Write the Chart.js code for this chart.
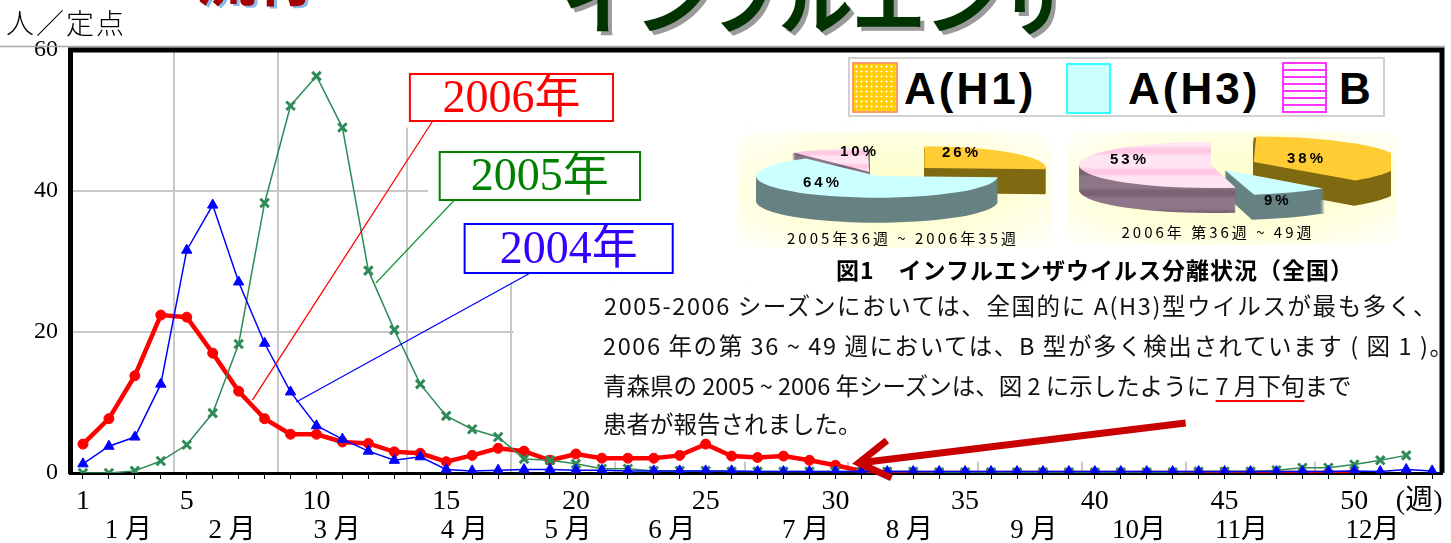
<!DOCTYPE html>
<html lang="ja">
<head>
<meta charset="utf-8">
<script src="https://cdn.jsdelivr.net/npm/chart.js@4.4.1/dist/chart.umd.min.js"></script>
<style>
  body { margin: 0; background: #fff; }
  #wrap { position: relative; width: 1451px; height: 543px; overflow: hidden; }
  .abs { position: absolute; white-space: nowrap; }
  .jp { font-family: "Noto Sans CJK JP", sans-serif; }
  .ctr { text-align: center; }
  .pct { font: bold 15px "Liberation Sans", sans-serif; letter-spacing: 3px; line-height: 15px; color: #000; }
  .lg { font: bold 44px "Liberation Sans", sans-serif; line-height: 44px; letter-spacing: 3px; color: #000; }
  .para { font-size: 23.5px; line-height: 24px; color: #111; }
  canvas { position: absolute; }
</style>
</head>
<body>
<div id="wrap">
  <canvas id="main" width="1451" height="543" style="left:0;top:0"></canvas>

  <div class="abs jp" style="left:562px;top:-41px;font-size:74px;line-height:74px;font-weight:700;color:#003300;text-shadow:4px 4px 0 #9a9a9a;letter-spacing:-1px">インフルエンザ</div>
  <div class="abs jp" style="left:196px;top:-55px;font-size:60px;line-height:60px;font-weight:700;color:#a00000;text-shadow:3px 2px 0 #88bbee">流行</div>
  <div class="abs jp" style="left:6px;top:8px;font-size:28px;line-height:28px;font-weight:300;color:#000;letter-spacing:2px">人／定点</div>

  <!-- legend of the virus types -->
  <div class="abs" style="left:848px;top:57px;width:533px;height:56px;border:2px solid #d0d0d0;background:#fff"></div>
  <div class="abs" style="left:852px;top:62px;width:42px;height:47px;border:2px solid #ff9966;background-color:#ffcc00;background-image:radial-gradient(#fff 0.8px, transparent 1.3px);background-size:5px 5px"></div>
  <div class="abs lg" style="left:904px;top:67px">A(H1)</div>
  <div class="abs" style="left:1066px;top:63px;width:41px;height:47px;border:2px solid #33ffff;background:#ccffff"></div>
  <div class="abs lg" style="left:1128px;top:67px">A(H3)</div>
  <div class="abs" style="left:1282px;top:62px;width:41px;height:47px;border:2px solid #ff33ff;background:repeating-linear-gradient(to bottom,#fff 0 5px,#ff33ff 5px 7px)"></div>
  <div class="abs lg" style="left:1339px;top:67px">B</div>

  <!-- pie panels -->
  <div class="abs" style="left:738px;top:132px;width:313px;height:116px;background:radial-gradient(ellipse at 50% 50%,#ffffcc 0%,#ffffd8 50%,#fffff0 85%,#fff 100%)"></div>
  <div class="abs" style="left:1067px;top:132px;width:330px;height:113px;background:radial-gradient(ellipse at 50% 50%,#ffffcc 0%,#ffffd8 50%,#fffff0 85%,#fff 100%)"></div>
  <canvas id="pie1" width="360" height="360" style="left:697px;top:-4px"></canvas>
  <canvas id="pie2" width="360" height="360" style="left:1031px;top:-15px"></canvas>

  <div class="abs pct" style="left:840px;top:143px">10%</div>
  <div class="abs pct" style="left:942px;top:144px">26%</div>
  <div class="abs pct" style="left:803px;top:174px">64%</div>
  <div class="abs pct" style="left:1110px;top:151px">53%</div>
  <div class="abs pct" style="left:1287px;top:150px">38%</div>
  <div class="abs pct" style="left:1264px;top:192px">9%</div>

  <div class="abs jp ctr" style="left:603px;width:600px;top:230px;font-size:15px;line-height:15px;letter-spacing:3px">2005年36週 ~ 2006年35週</div>
  <div class="abs jp ctr" style="left:918px;width:600px;top:224px;font-size:15px;line-height:15px;letter-spacing:3px">2006年 第36週 ~ 49週</div>

  <div class="abs jp ctr" style="left:795px;width:600px;top:258px;font-size:23px;line-height:23px;font-weight:700;letter-spacing:1px">図1　インフルエンザウイルス分離状況（全国）</div>

  <div class="abs jp para" style="left:604px;top:293px;letter-spacing:1.6px"> 2005-2006 シーズンにおいては、全国的に A(H3)型ウイルスが最も多く、</div>
  <div class="abs jp para" style="left:603px;top:333px;letter-spacing:1.6px">2006 年の第 36 ~ 49 週においては、B 型が多く検出されています ( 図 1 )。</div>
  <div class="abs jp para" style="left:603px;top:373px">青森県の 2005 ~ 2006 年シーズンは、図 2 に示したように <span style="text-decoration:underline;text-decoration-color:#ff0000;text-decoration-thickness:2px;text-underline-offset:5px">7 月下旬</span>まで</div>
  <div class="abs jp para" style="left:603px;top:411px">患者が報告されました。</div>
</div>

<script>
// weekly reports per sentinel site (人／定点), Aomori
const weeks = [1,2,3,4,5,6,7,8,9,10,11,12,13,14,15,16,17,18,19,20,21,22,23,24,25,26,
  27,28,29,30,31,32,33,34,35,36,37,38,39,40,41,42,43,44,45,46,47,48,49,50,51,52,53];
const y2006 = [4.1, 7.7, 13.8, 22.4, 22.1, 17.0, 11.6, 7.7, 5.5, 5.5, 4.4, 4.2, 3.0, 2.8, 1.6, 2.5, 3.5,
  3.1, 1.8, 2.7, 2.1, 2.1, 2.1, 2.5, 4.1, 2.4, 2.2, 2.4, 1.8, 1.1, 0.3,
  0, 0, 0, 0, 0, 0, 0, 0, 0, 0, 0, 0, 0, 0, 0, 0, 0, 0, 0];
const y2005 = [0, 0, 0.3, 1.7, 4.0, 8.5, 18.3, 38.3, 52.1, 56.3, 49.0, 28.7, 20.3, 12.6, 8.1, 6.2, 5.1,
  2.0, 1.8, 1.3, 0.6, 0.6, 0.3, 0.3, 0.3, 0.2, 0.2, 0.2, 0.2, 0.2, 0.2, 0.2, 0.2, 0.1, 0.1,
  0.1, 0.1, 0.1, 0.1, 0.1, 0.1, 0.1, 0.1, 0.2, 0.2, 0.2, 0.4, 0.75, 0.75, 1.2, 1.8, 2.5];
const y2004 = [1.3, 3.8, 5.1, 12.6, 31.6, 38.0, 27.1, 18.4, 11.5, 6.7, 4.8, 3.1, 1.8, 2.3, 0.5, 0.3, 0.4,
  0.5, 0.5, 0.4, 0.4, 0.3, 0.3, 0.3, 0.3, 0.3, 0.2, 0.2, 0.2, 0.2, 0.2, 0.2, 0.2, 0.2, 0.2,
  0.2, 0.2, 0.2, 0.2, 0.2, 0.2, 0.2, 0.2, 0.2, 0.2, 0.2, 0.2, 0.2, 0.2, 0.3, 0.2, 0.5, 0.3];

const yTicks = [0, 20, 40, 60];
const labelWeeks = [1, 5, 10, 15, 20, 25, 30, 35, 40, 45, 50];
const unitPos = 52.5;
const monthNames = ['1 月', '2 月', '3 月', '4 月', '5 月', '6 月', '7 月', '8 月', '9 月', '10月', '11月', '12月'];
const monthPos = [2.75, 6.75, 10.8, 15.7, 19.7, 23.7, 28.85, 32.85, 37.65, 41.7, 45.65, 50.7];
const monthEdges = [4.5, 8.5, 13.5, 17.5, 21.5, 26.5, 30.5, 35.5, 39.5, 43.5, 48.5];
const weekMin = 0.5, weekMax = 53.38;

// pie data: share of isolated virus types
const virusTypes = ['A(H1)', 'A(H3)', 'B'];
const season0506 = [26, 64, 10];
const season06 = [38, 9, 53];

// white areas behind the overlaid pictures/text (week, value)
const masks = [[13, 49, 53.5, 60], [14.3, 27, 53.5, 49], [17.6, 1.6, 53.5, 27]];
// year call-outs: box corners and leader line ends (week, value)
const notes = [
  { text: '2006年', color: '#ff0000', line: '#ff0000', box: [13.6, 56.6, 21.43, 49.93], from: [7.53, 10.35], to: [14.48, 49.93] },
  { text: '2005年', color: '#008000', line: '#1a9a3a', box: [14.75, 45.53, 22.47, 38.72], from: [12.29, 26.95], to: [15.32, 38.72] },
  { text: '2004年', color: '#3300ff', line: '#0000ff', box: [15.71, 35.32, 23.73, 28.37], from: [9.22, 10.07], to: [18.24, 28.37] }
];
const arrow = { from: [43.5, 7.1], to: [30.9, 1.42] };

const pts = arr => arr.map((v, i) => ({ x: weeks[i], y: v }));

const decor = {
  id: 'decor',
  beforeDatasetsDraw(chart) {
    const { ctx, chartArea: a, scales: { x, y } } = chart;
    ctx.save();
    ctx.fillStyle = '#fff';
    masks.forEach(([x0, y0, x1, y1]) => {
      const l = x.getPixelForValue(x0), r = x.getPixelForValue(x1);
      const t = y.getPixelForValue(y1), b = y.getPixelForValue(y0);
      ctx.fillRect(l, t, r - l, b - t);
    });
    // frame on top and right
    ctx.strokeStyle = '#a8a8a8';
    ctx.lineWidth = 1.5;
    ctx.beginPath(); ctx.moveTo(0, a.top - 3.5); ctx.lineTo(a.right + 3, a.top - 3.5); ctx.stroke();
    ctx.strokeStyle = '#000';
    ctx.lineWidth = 5;
    ctx.beginPath();
    ctx.moveTo(a.left - 2, a.top); ctx.lineTo(a.right, a.top); ctx.lineTo(a.right, a.bottom);
    ctx.stroke();
    ctx.restore();
  },
  afterDatasetsDraw(chart) {
    const { ctx, scales: { x, y } } = chart;
    const P = ([wx, wy]) => [x.getPixelForValue(wx), y.getPixelForValue(wy)];
    ctx.save();
    notes.forEach(n => {
      const [fx, fy] = P(n.from), [tx, ty] = P(n.to);
      ctx.strokeStyle = n.line;
      ctx.lineWidth = 1.3;
      ctx.beginPath(); ctx.moveTo(fx, fy); ctx.lineTo(tx, ty); ctx.stroke();
      const [l, t] = P([n.box[0], n.box[1]]), [r, b] = P([n.box[2], n.box[3]]);
      ctx.fillStyle = '#fff';
      ctx.fillRect(l, t, r - l, b - t);
      ctx.strokeStyle = n.color === '#3300ff' ? '#0000ff' : n.color;
      ctx.lineWidth = 2;
      ctx.strokeRect(l, t, r - l, b - t);
      ctx.fillStyle = n.color;
      ctx.font = '46px "Liberation Serif", "Noto Sans CJK JP", serif';
      ctx.textAlign = 'center';
      ctx.textBaseline = 'middle';
      ctx.fillText(n.text, (l + r) / 2, (t + b) / 2 + 2);
    });
    // arrow pointing to the end of the 2006 season
    const [ax, ay] = P(arrow.from), [bx, by] = P(arrow.to);
    const ang = Math.atan2(ay - by, ax - bx);
    ctx.strokeStyle = '#c80000';
    ctx.lineWidth = 7;
    ctx.beginPath(); ctx.moveTo(ax, ay); ctx.lineTo(bx + Math.cos(ang) * 4, by + Math.sin(ang) * 4); ctx.stroke();
    ctx.lineJoin = 'miter';
    ctx.beginPath();
    ctx.moveTo(bx + Math.cos(ang - 0.55) * 36, by + Math.sin(ang - 0.55) * 36);
    ctx.lineTo(bx, by);
    ctx.lineTo(bx + Math.cos(ang + 0.55) * 36, by + Math.sin(ang + 0.55) * 36);
    ctx.stroke();
    ctx.restore();
  }
};

const serif = { family: '"Liberation Serif", "Noto Sans CJK JP", serif' };
const noPad = s => { s.paddingRight = 0; s.paddingLeft = 0; };

new Chart(document.getElementById('main'), {
  type: 'line',
  data: {
    datasets: [
      { label: '2004年', data: pts(y2004), borderColor: '#0000ff', backgroundColor: '#0000ff', borderWidth: 1.5,
        pointStyle: 'triangle', pointRadius: 6, pointBorderWidth: 1, order: 0 },
      { label: '2005年', data: pts(y2005), borderColor: '#2e8b57', backgroundColor: '#2e8b57', borderWidth: 1.5,
        pointStyle: 'crossRot', pointRadius: 6, pointBorderWidth: 3, order: 1 },
      { label: '2006年', data: pts(y2006), borderColor: '#ff0000', backgroundColor: '#ff0000', borderWidth: 4.5,
        pointStyle: 'circle', pointRadius: 5, pointBorderWidth: 1, order: 2 }
    ]
  },
  options: {
    responsive: false,
    animation: false,
    events: [],
    layout: { padding: { top: 50, right: -3, left: 0, bottom: 0 } },
    plugins: { legend: { display: false }, tooltip: { enabled: false } },
    scales: {
      x: {
        type: 'linear', min: weekMin, max: weekMax, position: 'bottom', weight: 0,
        afterBuildTicks: s => { s.ticks = weeks.map(v => ({ value: v })).concat([{ value: unitPos }]); },
        afterFit: s => { s.height = 42; noPad(s); },
        grid: { drawOnChartArea: false, tickLength: 6, lineWidth: 1,
          color: c => (c.tick && c.tick.value === unitPos) ? 'rgba(0,0,0,0)' : '#000' },
        border: { color: '#000', width: 3 },
        ticks: { autoSkip: false, maxRotation: 0, padding: 6, color: '#000', font: { ...serif, size: 28 },
          callback: v => labelWeeks.includes(v) ? String(v) : (v === unitPos ? '(週)' : '') }
      },
      xMonth: {
        type: 'linear', min: weekMin, max: weekMax, position: 'bottom', weight: 1,
        afterBuildTicks: s => { s.ticks = monthPos.map(v => ({ value: v })); },
        afterFit: s => { s.height = 28; noPad(s); },
        grid: { display: false, drawTicks: false }, border: { display: false },
        ticks: { autoSkip: false, maxRotation: 0, padding: 0, color: '#000', font: { ...serif, size: 27 },
          callback: (v, i) => monthNames[i] }
      },
      xGrid: {
        type: 'linear', min: weekMin, max: weekMax, position: 'bottom', weight: 2,
        afterBuildTicks: s => { s.ticks = monthEdges.map(v => ({ value: v })); },
        afterFit: s => { s.height = 0; noPad(s); },
        grid: { color: '#c8c8c8', lineWidth: 2, drawTicks: false }, border: { display: false },
        ticks: { display: false }
      },
      y: {
        min: 0, max: 60,
        afterBuildTicks: s => { s.ticks = yTicks.map(v => ({ value: v })); },
        afterFit: s => { s.width = 70; },
        grid: { drawTicks: false, lineWidth: 2,
          color: c => (c.tick && (c.tick.value === 0 || c.tick.value === 60)) ? 'rgba(0,0,0,0)' : '#c8c8c8' },
        border: { color: '#000', width: 5 },
        ticks: { padding: 12, color: '#000', font: { ...serif, size: 24 } }
      }
    }
  },
  plugins: [decor]
});

// flat 3D look for the pies: squash vertically and extrude a dark side
function stripes(bg, ln) {
  const c = document.createElement('canvas');
  c.width = 6; c.height = 6;
  const g = c.getContext('2d');
  g.fillStyle = bg; g.fillRect(0, 0, 6, 6);
  g.fillStyle = ln; g.fillRect(0, 0, 6, 2);
  return g.createPattern(c, 'repeat');
}

const tilt = {
  id: 'tilt',
  beforeDatasetsDraw(chart, args, o) {
    const ctx = chart.ctx;
    const arcs = chart.getDatasetMeta(0).data;
    const cx = arcs[0].x, cy = arcs[0].y;
    ctx.save();
    ctx.translate(cx, cy); ctx.scale(1, o.squash); ctx.translate(-cx, -cy);
    for (let d = o.depth; d > 0; d--) {
      arcs.forEach((a, i) => {
        // same offset rule as the arc element itself
        const off = (a.options.offset || 0) / 4;
        const mid = (a.startAngle + a.endAngle) / 2;
        const fix = 1 - Math.sin(Math.min(Math.PI, a.endAngle - a.startAngle));
        const r = a.outerRadius + off * fix;
        const px = a.x + Math.cos(mid) * off, py = a.y + Math.sin(mid) * off + d / o.squash;
        ctx.fillStyle = o.sides[i];
        ctx.beginPath();
        ctx.moveTo(px, py);
        ctx.arc(px, py, r, a.startAngle, a.endAngle);
        ctx.closePath();
        ctx.fill();
      });
    }
  },
  afterDatasetsDraw(chart) { chart.ctx.restore(); }
};

function makePie(id, values, offsets, radius, squash) {
  return new Chart(document.getElementById(id), {
    type: 'pie',
    data: {
      labels: virusTypes,
      datasets: [{
        data: values, borderWidth: 0, offset: offsets, hoverOffset: 0, clip: false,
        backgroundColor: ['#ffcc33', '#ccffff', stripes('#ffe4f2', '#ffc8e4')]
      }]
    },
    options: {
      responsive: false, animation: false, events: [], radius: radius,
      plugins: { legend: { display: false }, tooltip: { enabled: false },
        tilt: { squash: squash, depth: 25, sides: ['#7f6a12', '#678282', stripes('#8e7688', '#7a6274')] } }
    },
    plugins: [tilt]
  });
}

makePie('pie1', season0506, [260, 0, 100], 121, 0.18);
makePie('pie2', season06, [184, 120, 0], 132, 0.175);
</script>
</body>
</html>
